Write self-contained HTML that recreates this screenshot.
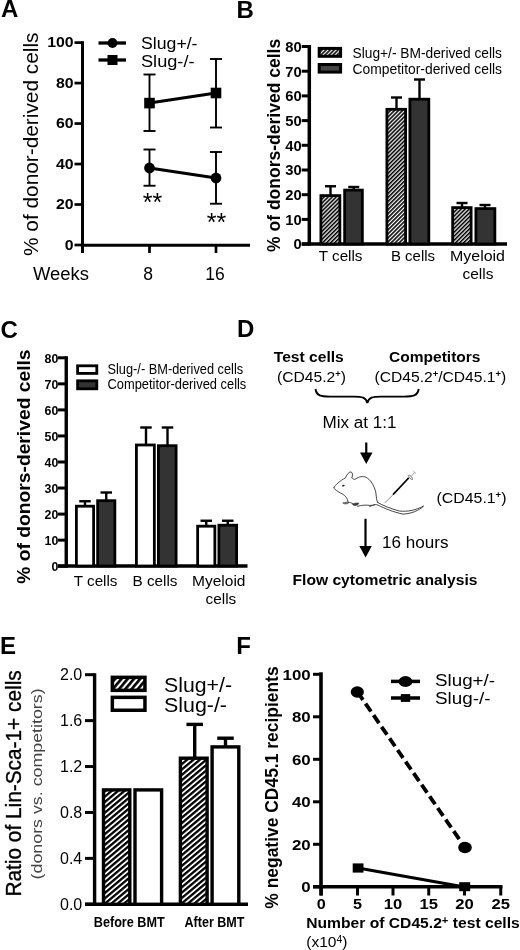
<!DOCTYPE html>
<html lang="en"><head><meta charset="utf-8"><title>Figure</title>
<style>
html,body{margin:0;padding:0;background:#fff;}
svg{display:block;font-family:'Liberation Sans', Arial, Helvetica, sans-serif;}
</style></head><body>
<svg width="520" height="950" viewBox="0 0 520 950">
<defs>
<pattern id="h1" width="2.85" height="2.85" patternUnits="userSpaceOnUse" patternTransform="rotate(-45)"><rect width="2.85" height="2.85" fill="#fff"/><rect width="2.85" height="1.6" fill="#000"/></pattern>
<pattern id="h2" width="4.1" height="4.1" patternUnits="userSpaceOnUse" patternTransform="rotate(-40)"><rect width="4.1" height="4.1" fill="#fff"/><rect width="4.1" height="2.3" fill="#000"/></pattern>
<pattern id="h3" width="4.8" height="4.8" patternUnits="userSpaceOnUse" patternTransform="rotate(-50)"><rect width="4.8" height="4.8" fill="#fff"/><rect width="4.8" height="2.7" fill="#000"/></pattern>
</defs>
<rect width="520" height="950" fill="#fff"/>

<text x="1" y="17.3" font-size="24" font-weight="bold">A</text>
<text x="236.5" y="17.6" font-size="24" font-weight="bold">B</text>
<text x="0.4" y="337.5" font-size="24" font-weight="bold">C</text>
<text x="237" y="336.5" font-size="24" font-weight="bold">D</text>
<text x="0" y="654" font-size="24" font-weight="bold">E</text>
<text x="236.25" y="654" font-size="24" font-weight="bold">F</text>
<g id="panelA">
<line x1="82.5" y1="41.2" x2="82.5" y2="253" stroke="#000" stroke-width="3"/>
<line x1="81.0" y1="245.2" x2="250" y2="245.2" stroke="#000" stroke-width="3"/>
<line x1="74.5" y1="245.0" x2="82.5" y2="245.0" stroke="#000" stroke-width="2.7"/>
<text x="73.6" y="249.8" font-size="14" font-weight="bold" text-anchor="end" textLength="8.8" lengthAdjust="spacingAndGlyphs">0</text>
<line x1="74.5" y1="204.51999999999998" x2="82.5" y2="204.51999999999998" stroke="#000" stroke-width="2.7"/>
<text x="73.6" y="209.32" font-size="14" font-weight="bold" text-anchor="end" textLength="17.6" lengthAdjust="spacingAndGlyphs">20</text>
<line x1="74.5" y1="164.04" x2="82.5" y2="164.04" stroke="#000" stroke-width="2.7"/>
<text x="73.6" y="168.84" font-size="14" font-weight="bold" text-anchor="end" textLength="17.6" lengthAdjust="spacingAndGlyphs">40</text>
<line x1="74.5" y1="123.56" x2="82.5" y2="123.56" stroke="#000" stroke-width="2.7"/>
<text x="73.6" y="128.36" font-size="14" font-weight="bold" text-anchor="end" textLength="17.6" lengthAdjust="spacingAndGlyphs">60</text>
<line x1="74.5" y1="83.07999999999998" x2="82.5" y2="83.07999999999998" stroke="#000" stroke-width="2.7"/>
<text x="73.6" y="87.87999999999998" font-size="14" font-weight="bold" text-anchor="end" textLength="17.6" lengthAdjust="spacingAndGlyphs">80</text>
<line x1="74.5" y1="42.599999999999994" x2="82.5" y2="42.599999999999994" stroke="#000" stroke-width="2.7"/>
<text x="73.6" y="47.39999999999999" font-size="14" font-weight="bold" text-anchor="end" textLength="26.400000000000002" lengthAdjust="spacingAndGlyphs">100</text>
<line x1="149.5" y1="245" x2="149.5" y2="253" stroke="#000" stroke-width="2.7"/>
<line x1="216" y1="245" x2="216" y2="253" stroke="#000" stroke-width="2.7"/>
<text x="33" y="280" font-size="17.5" textLength="56" lengthAdjust="spacingAndGlyphs">Weeks</text>
<text x="148" y="280" font-size="17.5" text-anchor="middle">8</text>
<text x="215" y="280" font-size="17.5" text-anchor="middle">16</text>
<text x="38.3" y="256" font-size="20" textLength="223.5" lengthAdjust="spacingAndGlyphs" transform="rotate(-90 38.3 256)">% of donor-derived cells</text>
<line x1="98.5" y1="43" x2="126" y2="43" stroke="#000" stroke-width="3.3"/>
<circle cx="112.5" cy="43" r="4.9" fill="#000"/>
<line x1="98.5" y1="60" x2="126" y2="60" stroke="#000" stroke-width="3.3"/>
<rect x="107.5" y="55" width="10" height="10" fill="#000"/>
<text x="141" y="48.5" font-size="16" textLength="56.5" lengthAdjust="spacingAndGlyphs">Slug+/-</text>
<text x="141" y="66.6" font-size="16" textLength="53.5" lengthAdjust="spacingAndGlyphs">Slug-/-</text>
<line x1="149.5" y1="74.5" x2="149.5" y2="131" stroke="#000" stroke-width="1.9"/>
<line x1="143.5" y1="74.5" x2="155.5" y2="74.5" stroke="#000" stroke-width="1.9"/>
<line x1="143.5" y1="131" x2="155.5" y2="131" stroke="#000" stroke-width="1.9"/>
<line x1="216" y1="59" x2="216" y2="127.5" stroke="#000" stroke-width="1.9"/>
<line x1="210.0" y1="59" x2="222.0" y2="59" stroke="#000" stroke-width="1.9"/>
<line x1="210.0" y1="127.5" x2="222.0" y2="127.5" stroke="#000" stroke-width="1.9"/>
<line x1="149.5" y1="103" x2="216" y2="93" stroke="#000" stroke-width="3"/>
<rect x="144.2" y="97.8" width="10.6" height="10.6" fill="#000"/>
<rect x="210.7" y="87.7" width="10.6" height="10.6" fill="#000"/>
<line x1="149.5" y1="149.5" x2="149.5" y2="185.75" stroke="#000" stroke-width="1.9"/>
<line x1="143.5" y1="149.5" x2="155.5" y2="149.5" stroke="#000" stroke-width="1.9"/>
<line x1="143.5" y1="185.75" x2="155.5" y2="185.75" stroke="#000" stroke-width="1.9"/>
<line x1="216" y1="152" x2="216" y2="203.75" stroke="#000" stroke-width="1.9"/>
<line x1="210.0" y1="152" x2="222.0" y2="152" stroke="#000" stroke-width="1.9"/>
<line x1="210.0" y1="203.75" x2="222.0" y2="203.75" stroke="#000" stroke-width="1.9"/>
<line x1="149.5" y1="168" x2="216" y2="178" stroke="#000" stroke-width="3"/>
<circle cx="149.5" cy="168" r="5.4" fill="#000"/>
<circle cx="216" cy="178" r="5.4" fill="#000"/>
<text x="152.5" y="211.2" font-size="25" text-anchor="middle">**</text>
<text x="216.5" y="230.7" font-size="25" text-anchor="middle">**</text>
</g>
<g id="panelB">
<line x1="309.3" y1="45" x2="309.3" y2="245.6" stroke="#000" stroke-width="3.5"/>
<line x1="301.7" y1="244" x2="507" y2="244" stroke="#000" stroke-width="3.4"/>
<line x1="301.7" y1="244.1" x2="309.3" y2="244.1" stroke="#000" stroke-width="3"/>
<text x="301.6" y="249.4" font-size="14.3" font-weight="bold" text-anchor="end" textLength="8.2" lengthAdjust="spacingAndGlyphs">0</text>
<line x1="301.7" y1="219.39999999999998" x2="309.3" y2="219.39999999999998" stroke="#000" stroke-width="3"/>
<text x="301.6" y="224.7" font-size="14.3" font-weight="bold" text-anchor="end" textLength="16.4" lengthAdjust="spacingAndGlyphs">10</text>
<line x1="301.7" y1="194.7" x2="309.3" y2="194.7" stroke="#000" stroke-width="3"/>
<text x="301.6" y="200.0" font-size="14.3" font-weight="bold" text-anchor="end" textLength="16.4" lengthAdjust="spacingAndGlyphs">20</text>
<line x1="301.7" y1="170.0" x2="309.3" y2="170.0" stroke="#000" stroke-width="3"/>
<text x="301.6" y="175.3" font-size="14.3" font-weight="bold" text-anchor="end" textLength="16.4" lengthAdjust="spacingAndGlyphs">30</text>
<line x1="301.7" y1="145.29999999999998" x2="309.3" y2="145.29999999999998" stroke="#000" stroke-width="3"/>
<text x="301.6" y="150.6" font-size="14.3" font-weight="bold" text-anchor="end" textLength="16.4" lengthAdjust="spacingAndGlyphs">40</text>
<line x1="301.7" y1="120.59999999999998" x2="309.3" y2="120.59999999999998" stroke="#000" stroke-width="3"/>
<text x="301.6" y="125.89999999999998" font-size="14.3" font-weight="bold" text-anchor="end" textLength="16.4" lengthAdjust="spacingAndGlyphs">50</text>
<line x1="301.7" y1="95.89999999999998" x2="309.3" y2="95.89999999999998" stroke="#000" stroke-width="3"/>
<text x="301.6" y="101.19999999999997" font-size="14.3" font-weight="bold" text-anchor="end" textLength="16.4" lengthAdjust="spacingAndGlyphs">60</text>
<line x1="301.7" y1="71.19999999999999" x2="309.3" y2="71.19999999999999" stroke="#000" stroke-width="3"/>
<text x="301.6" y="76.49999999999999" font-size="14.3" font-weight="bold" text-anchor="end" textLength="16.4" lengthAdjust="spacingAndGlyphs">70</text>
<line x1="301.7" y1="46.49999999999997" x2="309.3" y2="46.49999999999997" stroke="#000" stroke-width="3"/>
<text x="301.6" y="51.79999999999997" font-size="14.3" font-weight="bold" text-anchor="end" textLength="16.4" lengthAdjust="spacingAndGlyphs">80</text>
<text x="279.8" y="251.9" font-size="17.5" font-weight="bold" textLength="213.1" lengthAdjust="spacingAndGlyphs" transform="rotate(-90 279.8 251.9)">% of donors-derived cells</text>
<rect x="319.2" y="48.4" width="21.4" height="7.9" fill="url(#h1)" stroke="#000" stroke-width="3"/>
<rect x="319.2" y="64.5" width="21.4" height="7.6" fill="#444" stroke="#000" stroke-width="3"/>
<text x="352.5" y="57.5" font-size="14" textLength="149.5" lengthAdjust="spacingAndGlyphs">Slug+/- BM-derived cells</text>
<text x="352.5" y="73.75" font-size="14" textLength="149.5" lengthAdjust="spacingAndGlyphs">Competitor-derived cells</text>
<line x1="330.5" y1="186.25" x2="330.5" y2="195.2" stroke="#000" stroke-width="2.4"/>
<line x1="325.0" y1="186.25" x2="336.0" y2="186.25" stroke="#000" stroke-width="2.4"/>
<line x1="353.75" y1="187" x2="353.75" y2="189.7" stroke="#000" stroke-width="2.4"/>
<line x1="348.25" y1="187" x2="359.25" y2="187" stroke="#000" stroke-width="2.4"/>
<rect x="320.9" y="195.6" width="18.95" height="48.40000000000001" fill="url(#h1)" stroke="#000" stroke-width="2.8"/>
<rect x="344.65" y="190.1" width="17.7" height="53.90000000000001" fill="#333" stroke="#000" stroke-width="2.8"/>
<line x1="396.5" y1="97.5" x2="396.5" y2="108.9" stroke="#000" stroke-width="2.4"/>
<line x1="391.0" y1="97.5" x2="402.0" y2="97.5" stroke="#000" stroke-width="2.4"/>
<line x1="419.5" y1="79.5" x2="419.5" y2="98.8" stroke="#000" stroke-width="2.4"/>
<line x1="414.0" y1="79.5" x2="425.0" y2="79.5" stroke="#000" stroke-width="2.4"/>
<rect x="386.9" y="109.30000000000001" width="18.7" height="134.7" fill="url(#h1)" stroke="#000" stroke-width="2.8"/>
<rect x="409.9" y="99.2" width="18.899999999999988" height="144.79999999999998" fill="#333" stroke="#000" stroke-width="2.8"/>
<line x1="462" y1="203" x2="462" y2="207.2" stroke="#000" stroke-width="2.4"/>
<line x1="456.5" y1="203" x2="467.5" y2="203" stroke="#000" stroke-width="2.4"/>
<line x1="485" y1="205" x2="485" y2="208.2" stroke="#000" stroke-width="2.4"/>
<line x1="479.5" y1="205" x2="490.5" y2="205" stroke="#000" stroke-width="2.4"/>
<rect x="452.65" y="207.6" width="18.45" height="36.40000000000001" fill="url(#h1)" stroke="#000" stroke-width="2.8"/>
<rect x="475.9" y="208.6" width="18.95" height="35.40000000000001" fill="#333" stroke="#000" stroke-width="2.8"/>
<text x="318.75" y="261.25" font-size="14.5" textLength="43.75" lengthAdjust="spacingAndGlyphs">T cells</text>
<text x="391" y="261.25" font-size="14.5" textLength="44" lengthAdjust="spacingAndGlyphs">B cells</text>
<text x="450" y="261.25" font-size="14.5" textLength="55" lengthAdjust="spacingAndGlyphs">Myeloid</text>
<text x="462.5" y="279.3" font-size="14.5" textLength="31" lengthAdjust="spacingAndGlyphs">cells</text>
</g>
<g id="panelC">
<line x1="66.25" y1="356.2" x2="66.25" y2="567.6" stroke="#000" stroke-width="3.4"/>
<line x1="58" y1="566" x2="247.5" y2="566" stroke="#000" stroke-width="3.3"/>
<line x1="58" y1="566.2" x2="66.25" y2="566.2" stroke="#000" stroke-width="3"/>
<text x="58.3" y="571.0" font-size="13.5" font-weight="bold" text-anchor="end" textLength="6.9" lengthAdjust="spacingAndGlyphs">0</text>
<line x1="58" y1="540.1500000000001" x2="66.25" y2="540.1500000000001" stroke="#000" stroke-width="3"/>
<text x="58.3" y="544.95" font-size="13.5" font-weight="bold" text-anchor="end" textLength="13.8" lengthAdjust="spacingAndGlyphs">10</text>
<line x1="58" y1="514.1" x2="66.25" y2="514.1" stroke="#000" stroke-width="3"/>
<text x="58.3" y="518.9" font-size="13.5" font-weight="bold" text-anchor="end" textLength="13.8" lengthAdjust="spacingAndGlyphs">20</text>
<line x1="58" y1="488.05000000000007" x2="66.25" y2="488.05000000000007" stroke="#000" stroke-width="3"/>
<text x="58.3" y="492.8500000000001" font-size="13.5" font-weight="bold" text-anchor="end" textLength="13.8" lengthAdjust="spacingAndGlyphs">30</text>
<line x1="58" y1="462.00000000000006" x2="66.25" y2="462.00000000000006" stroke="#000" stroke-width="3"/>
<text x="58.3" y="466.80000000000007" font-size="13.5" font-weight="bold" text-anchor="end" textLength="13.8" lengthAdjust="spacingAndGlyphs">40</text>
<line x1="58" y1="435.95000000000005" x2="66.25" y2="435.95000000000005" stroke="#000" stroke-width="3"/>
<text x="58.3" y="440.75000000000006" font-size="13.5" font-weight="bold" text-anchor="end" textLength="13.8" lengthAdjust="spacingAndGlyphs">50</text>
<line x1="58" y1="409.90000000000003" x2="66.25" y2="409.90000000000003" stroke="#000" stroke-width="3"/>
<text x="58.3" y="414.70000000000005" font-size="13.5" font-weight="bold" text-anchor="end" textLength="13.8" lengthAdjust="spacingAndGlyphs">60</text>
<line x1="58" y1="383.85" x2="66.25" y2="383.85" stroke="#000" stroke-width="3"/>
<text x="58.3" y="388.65000000000003" font-size="13.5" font-weight="bold" text-anchor="end" textLength="13.8" lengthAdjust="spacingAndGlyphs">70</text>
<line x1="58" y1="357.80000000000007" x2="66.25" y2="357.80000000000007" stroke="#000" stroke-width="3"/>
<text x="58.3" y="362.6000000000001" font-size="13.5" font-weight="bold" text-anchor="end" textLength="13.8" lengthAdjust="spacingAndGlyphs">80</text>
<text x="29.6" y="583.8" font-size="19" font-weight="bold" textLength="234.4" lengthAdjust="spacingAndGlyphs" transform="rotate(-90 29.6 583.8)">% of donors-derived cells</text>
<rect x="77.6" y="365.8" width="19.2" height="7.6" fill="#fff" stroke="#000" stroke-width="2.8"/>
<rect x="77.6" y="380.8" width="19.2" height="8" fill="#333" stroke="#000" stroke-width="2.8"/>
<text x="107.5" y="374.1" font-size="14" textLength="135.7" lengthAdjust="spacingAndGlyphs">Slug-/- BM-derived cells</text>
<text x="107.5" y="389.1" font-size="14" textLength="138.8" lengthAdjust="spacingAndGlyphs">Competitor-derived cells</text>
<line x1="85" y1="501.25" x2="85" y2="505.8" stroke="#000" stroke-width="2.4"/>
<line x1="79.25" y1="501.25" x2="90.75" y2="501.25" stroke="#000" stroke-width="2.4"/>
<line x1="106.25" y1="492.5" x2="106.25" y2="500.3" stroke="#000" stroke-width="2.4"/>
<line x1="100.5" y1="492.5" x2="112.0" y2="492.5" stroke="#000" stroke-width="2.4"/>
<rect x="76.4" y="506.2" width="17.2" height="59.79999999999999" fill="#fff" stroke="#000" stroke-width="2.8"/>
<rect x="97.65" y="500.7" width="17.2" height="65.29999999999998" fill="#333" stroke="#000" stroke-width="2.8"/>
<line x1="146" y1="427.5" x2="146" y2="444.6" stroke="#000" stroke-width="2.4"/>
<line x1="140.25" y1="427.5" x2="151.75" y2="427.5" stroke="#000" stroke-width="2.4"/>
<line x1="167.5" y1="427.5" x2="167.5" y2="445.3" stroke="#000" stroke-width="2.4"/>
<line x1="161.75" y1="427.5" x2="173.25" y2="427.5" stroke="#000" stroke-width="2.4"/>
<rect x="136.4" y="445.0" width="17.95" height="120.99999999999997" fill="#fff" stroke="#000" stroke-width="2.8"/>
<rect x="158.4" y="445.7" width="17.7" height="120.29999999999998" fill="#333" stroke="#000" stroke-width="2.8"/>
<line x1="206.25" y1="520.75" x2="206.25" y2="525.8" stroke="#000" stroke-width="2.4"/>
<line x1="200.5" y1="520.75" x2="212.0" y2="520.75" stroke="#000" stroke-width="2.4"/>
<line x1="227.75" y1="520.75" x2="227.75" y2="524.8" stroke="#000" stroke-width="2.4"/>
<line x1="222.0" y1="520.75" x2="233.5" y2="520.75" stroke="#000" stroke-width="2.4"/>
<rect x="197.65" y="526.1999999999999" width="17.2" height="39.80000000000005" fill="#fff" stroke="#000" stroke-width="2.8"/>
<rect x="218.9" y="525.1999999999999" width="17.7" height="40.80000000000005" fill="#333" stroke="#000" stroke-width="2.8"/>
<text x="73.75" y="585.5" font-size="14.5" textLength="43.75" lengthAdjust="spacingAndGlyphs">T cells</text>
<text x="132.5" y="585.5" font-size="14.5" textLength="45" lengthAdjust="spacingAndGlyphs">B cells</text>
<text x="192" y="585.5" font-size="14.5" textLength="53.5" lengthAdjust="spacingAndGlyphs">Myeloid</text>
<text x="205.5" y="603.75" font-size="14.5" textLength="30.75" lengthAdjust="spacingAndGlyphs">cells</text>
</g>
<g id="panelD">
<text x="273.75" y="362" font-size="14.5" font-weight="bold" textLength="70" lengthAdjust="spacingAndGlyphs">Test cells</text>
<text x="389" y="362" font-size="14.5" font-weight="bold" textLength="91.5" lengthAdjust="spacingAndGlyphs">Competitors</text>
<text x="277" y="382.2" font-size="15" textLength="69" lengthAdjust="spacingAndGlyphs">(CD45.2<tspan font-size="9" dy="-5" font-weight="bold">+</tspan><tspan dy="5">)</tspan></text>
<text x="374.5" y="382.2" font-size="15" textLength="131.75" lengthAdjust="spacingAndGlyphs">(CD45.2<tspan font-size="9" dy="-5" font-weight="bold">+</tspan><tspan dy="5">/CD45.1</tspan><tspan font-size="9" dy="-5" font-weight="bold">+</tspan><tspan dy="5">)</tspan></text>
<path d="M315.5 389 C316.5 396 321 396.6 330 396.6 L354 396.6 C362 396.6 366 397.5 367.3 403 C368.6 397.5 373 396.6 381 396.6 L404 396.6 C413 396.6 417.5 396 418.75 389" fill="none" stroke="#000" stroke-width="1.9"/>
<text x="322.5" y="428" font-size="16" textLength="74" lengthAdjust="spacingAndGlyphs">Mix at 1:1</text>
<line x1="366.25" y1="442.5" x2="366.25" y2="455" stroke="#000" stroke-width="2.2"/>
<path d="M360 452.5 L372.5 452.5 L366.25 464 Z" fill="#000"/>
<line x1="365.5" y1="518.75" x2="365.5" y2="548" stroke="#000" stroke-width="2.2"/>
<path d="M359.3 546 L371.8 546 L365.6 557.5 Z" fill="#000"/>
<text x="382" y="547.5" font-size="16.5" textLength="66.5" lengthAdjust="spacingAndGlyphs">16 hours</text>
<text x="436.5" y="502.9" font-size="15" textLength="70" lengthAdjust="spacingAndGlyphs">(CD45.1<tspan font-size="9" dy="-5" font-weight="bold">+</tspan><tspan dy="5">)</tspan></text>
<text x="292.5" y="584.7" font-size="15.3" font-weight="bold" textLength="185" lengthAdjust="spacingAndGlyphs">Flow cytometric analysis</text>
<g id="mouse" fill="none" stroke="#3a3a3a" stroke-width="7.5" stroke-linecap="round" stroke-linejoin="round">
<g transform="translate(328 466) scale(0.125)">
<path d="M48 172 C58 152 95 118 140 95 C148 72 165 48 183 47 C197 50 200 75 190 96 C198 102 208 108 216 107 C235 92 265 78 298 88 C340 104 372 160 383 215 C388 250 386 275 398 292"/>
<path d="M372 312 C345 320 320 312 295 313 C270 314 250 320 236 322"/>
<path d="M196 304 C215 296 235 294 246 298 C248 306 236 312 226 314 C214 320 200 316 196 304 Z" fill="#3a3a3a" stroke-width="5"/>
<path d="M122 296 C135 288 155 288 166 292 C166 300 150 304 138 303 C128 303 122 300 122 296 Z" fill="#777" stroke-width="5"/>
<path d="M166 292 C176 290 186 294 196 300"/>
<path d="M160 286 C158 262 142 240 116 224 C92 212 68 198 55 186 C50 181 47 177 48 172"/>
<ellipse cx="123" cy="157" rx="11" ry="7.5" fill="#2a2a2a" stroke="none" transform="rotate(-12 123 157)"/>
</g>
<g transform="translate(368 466) scale(0.125)">
<path d="M78 292 C120 316 180 341 250 360 C320 368 385 352 445 320 C410 356 345 382 280 385 C200 368 130 338 82 314 C66 306 48 306 34 316 C28 320 20 322 12 322"/>
<path d="M135 295 L198 232" stroke="#666" stroke-width="6"/>
<path d="M200 229 L326 95" stroke="#000" stroke-width="12" stroke-linecap="butt"/>
<ellipse cx="340" cy="90" rx="22" ry="9" stroke="#777" stroke-width="7" transform="rotate(48 340 90)"/>
<path d="M346 82 L372 52" stroke="#888" stroke-width="7"/>
<path d="M364 42 L382 58" stroke="#999" stroke-width="6"/>
</g>
</g>
</g>
<g id="panelE">
<line x1="94.6" y1="673.3" x2="94.6" y2="906" stroke="#000" stroke-width="3.4"/>
<line x1="85" y1="904.3" x2="248" y2="904.3" stroke="#000" stroke-width="3.4"/>
<line x1="85" y1="904.3" x2="94.6" y2="904.3" stroke="#000" stroke-width="3"/>
<text x="82.3" y="909.9" font-size="16" text-anchor="end" textLength="22.3" lengthAdjust="spacingAndGlyphs">0.0</text>
<line x1="85" y1="858.38" x2="94.6" y2="858.38" stroke="#000" stroke-width="3"/>
<text x="82.3" y="863.98" font-size="16" text-anchor="end" textLength="22.3" lengthAdjust="spacingAndGlyphs">0.4</text>
<line x1="85" y1="812.4599999999999" x2="94.6" y2="812.4599999999999" stroke="#000" stroke-width="3"/>
<text x="82.3" y="818.06" font-size="16" text-anchor="end" textLength="22.3" lengthAdjust="spacingAndGlyphs">0.8</text>
<line x1="85" y1="766.54" x2="94.6" y2="766.54" stroke="#000" stroke-width="3"/>
<text x="82.3" y="772.14" font-size="16" text-anchor="end" textLength="22.3" lengthAdjust="spacingAndGlyphs">1.2</text>
<line x1="85" y1="720.6199999999999" x2="94.6" y2="720.6199999999999" stroke="#000" stroke-width="3"/>
<text x="82.3" y="726.2199999999999" font-size="16" text-anchor="end" textLength="22.3" lengthAdjust="spacingAndGlyphs">1.6</text>
<line x1="85" y1="674.6999999999999" x2="94.6" y2="674.6999999999999" stroke="#000" stroke-width="3"/>
<text x="82.3" y="680.3" font-size="16" text-anchor="end" textLength="22.3" lengthAdjust="spacingAndGlyphs">2.0</text>
<text x="20.8" y="896.6" font-size="22" textLength="226.3" lengthAdjust="spacingAndGlyphs" transform="rotate(-90 20.8 896.6)" stroke="#000" stroke-width="0.35">Ratio of Lin-Sca-1+ cells</text>
<text x="42.5" y="879.4" font-size="15.5" textLength="191" lengthAdjust="spacingAndGlyphs" transform="rotate(-90 42.5 879.4)" fill="#444">(donors vs. competitors)</text>
<rect x="112.35" y="677.35" width="32.6" height="13" fill="url(#h3)" stroke="#000" stroke-width="3.5"/>
<rect x="112.35" y="697.35" width="32.6" height="12.9" fill="#fff" stroke="#000" stroke-width="3.5"/>
<text x="164" y="691.8" font-size="21" textLength="68" lengthAdjust="spacingAndGlyphs">Slug+/-</text>
<text x="164" y="711.8" font-size="21" textLength="63" lengthAdjust="spacingAndGlyphs">Slug-/-</text>
<line x1="194.7" y1="724.4" x2="194.7" y2="759" stroke="#000" stroke-width="3.4"/>
<line x1="186.45" y1="724.4" x2="202.95" y2="724.4" stroke="#000" stroke-width="3.4"/>
<line x1="225.5" y1="738.2" x2="225.5" y2="748" stroke="#000" stroke-width="3.4"/>
<line x1="217.25" y1="738.2" x2="233.75" y2="738.2" stroke="#000" stroke-width="3.4"/>
<rect x="103.5" y="789.9000000000001" width="26.300000000000004" height="114.3999999999999" fill="url(#h2)" stroke="#000" stroke-width="3.4"/>
<rect x="135.0" y="789.9000000000001" width="26.6" height="114.3999999999999" fill="#fff" stroke="#000" stroke-width="3.4"/>
<rect x="180.39999999999998" y="758.2" width="26.700000000000024" height="146.09999999999997" fill="url(#h2)" stroke="#000" stroke-width="3.4"/>
<rect x="212.1" y="746.9000000000001" width="26.699999999999996" height="157.39999999999992" fill="#fff" stroke="#000" stroke-width="3.4"/>
<text x="93.75" y="927" font-size="14.5" font-weight="bold" textLength="71" lengthAdjust="spacingAndGlyphs">Before BMT</text>
<text x="184.5" y="927" font-size="14.5" font-weight="bold" textLength="60" lengthAdjust="spacingAndGlyphs">After BMT</text>
</g>
<g id="panelF">
<line x1="321" y1="672.3" x2="321" y2="895.5" stroke="#000" stroke-width="3.6"/>
<line x1="313" y1="886.8" x2="502.5" y2="886.8" stroke="#000" stroke-width="3.6"/>
<line x1="313" y1="886.8" x2="321" y2="886.8" stroke="#000" stroke-width="3"/>
<text x="310.7" y="892.0999999999999" font-size="15.3" font-weight="bold" text-anchor="end" textLength="9.4" lengthAdjust="spacingAndGlyphs">0</text>
<line x1="313" y1="844.3" x2="321" y2="844.3" stroke="#000" stroke-width="3"/>
<text x="310.7" y="849.5999999999999" font-size="15.3" font-weight="bold" text-anchor="end" textLength="18.8" lengthAdjust="spacingAndGlyphs">20</text>
<line x1="313" y1="801.8" x2="321" y2="801.8" stroke="#000" stroke-width="3"/>
<text x="310.7" y="807.0999999999999" font-size="15.3" font-weight="bold" text-anchor="end" textLength="18.8" lengthAdjust="spacingAndGlyphs">40</text>
<line x1="313" y1="759.3" x2="321" y2="759.3" stroke="#000" stroke-width="3"/>
<text x="310.7" y="764.5999999999999" font-size="15.3" font-weight="bold" text-anchor="end" textLength="18.8" lengthAdjust="spacingAndGlyphs">60</text>
<line x1="313" y1="716.8" x2="321" y2="716.8" stroke="#000" stroke-width="3"/>
<text x="310.7" y="722.0999999999999" font-size="15.3" font-weight="bold" text-anchor="end" textLength="18.8" lengthAdjust="spacingAndGlyphs">80</text>
<line x1="313" y1="674.3" x2="321" y2="674.3" stroke="#000" stroke-width="3"/>
<text x="310.7" y="679.5999999999999" font-size="15.3" font-weight="bold" text-anchor="end" textLength="28.200000000000003" lengthAdjust="spacingAndGlyphs">100</text>
<line x1="321.3" y1="887" x2="321.3" y2="895.5" stroke="#000" stroke-width="3"/>
<text x="321.3" y="909.3" font-size="14.5" font-weight="bold" text-anchor="middle" textLength="9" lengthAdjust="spacingAndGlyphs">0</text>
<line x1="357.5" y1="887" x2="357.5" y2="895.5" stroke="#000" stroke-width="3"/>
<text x="357.5" y="909.3" font-size="14.5" font-weight="bold" text-anchor="middle" textLength="9" lengthAdjust="spacingAndGlyphs">5</text>
<line x1="393" y1="887" x2="393" y2="895.5" stroke="#000" stroke-width="3"/>
<text x="393" y="909.3" font-size="14.5" font-weight="bold" text-anchor="middle" textLength="18.5" lengthAdjust="spacingAndGlyphs">10</text>
<line x1="428.75" y1="887" x2="428.75" y2="895.5" stroke="#000" stroke-width="3"/>
<text x="428.75" y="909.3" font-size="14.5" font-weight="bold" text-anchor="middle" textLength="18.5" lengthAdjust="spacingAndGlyphs">15</text>
<line x1="464.5" y1="887" x2="464.5" y2="895.5" stroke="#000" stroke-width="3"/>
<text x="464.5" y="909.3" font-size="14.5" font-weight="bold" text-anchor="middle" textLength="18.5" lengthAdjust="spacingAndGlyphs">20</text>
<line x1="500.75" y1="887" x2="500.75" y2="895.5" stroke="#000" stroke-width="3"/>
<text x="500.75" y="909.3" font-size="14.5" font-weight="bold" text-anchor="middle" textLength="18.5" lengthAdjust="spacingAndGlyphs">25</text>
<text x="278.5" y="908.7" font-size="17.5" font-weight="bold" textLength="242.3" lengthAdjust="spacingAndGlyphs" transform="rotate(-90 278.5 908.7)">% negative CD45.1 recipients</text>
<text x="306.25" y="927.8" font-size="15.3" font-weight="bold" textLength="213.5" lengthAdjust="spacingAndGlyphs">Number of CD45.2<tspan font-size="11" dy="-3.8">+</tspan><tspan dy="3.8"> test cells</tspan></text>
<text x="306.25" y="947" font-size="15" textLength="41.25" lengthAdjust="spacingAndGlyphs">(x10<tspan font-size="10" dy="-4.2">4</tspan><tspan dy="4.2">)</tspan></text>
<line x1="391" y1="681.4" x2="420" y2="681.4" stroke="#000" stroke-width="3.5"/>
<ellipse cx="405.5" cy="681.5" rx="6.9" ry="5.4" fill="#000"/>
<line x1="391" y1="698" x2="420" y2="698" stroke="#000" stroke-width="3.5"/>
<rect x="400.8" y="694.1" width="9.4" height="7.8" fill="#000"/>
<text x="435" y="686.4" font-size="16" textLength="60" lengthAdjust="spacingAndGlyphs">Slug+/-</text>
<text x="435" y="703.9" font-size="16" textLength="55.5" lengthAdjust="spacingAndGlyphs">Slug-/-</text>
<line x1="357.5" y1="692" x2="465" y2="847.5" stroke="#000" stroke-width="3.8" stroke-dasharray="9.6 4.5"/>
<ellipse cx="357.3" cy="692" rx="6.6" ry="5.7" fill="#000"/>
<ellipse cx="465" cy="847.5" rx="6.8" ry="5.7" fill="#000"/>
<line x1="358" y1="868" x2="464.5" y2="887" stroke="#000" stroke-width="3"/>
<rect x="352.7" y="863.4" width="10.8" height="9.2" fill="#000"/>
<rect x="459.2" y="882.2" width="11" height="9" fill="#000"/>
</g>
</svg></body></html>
